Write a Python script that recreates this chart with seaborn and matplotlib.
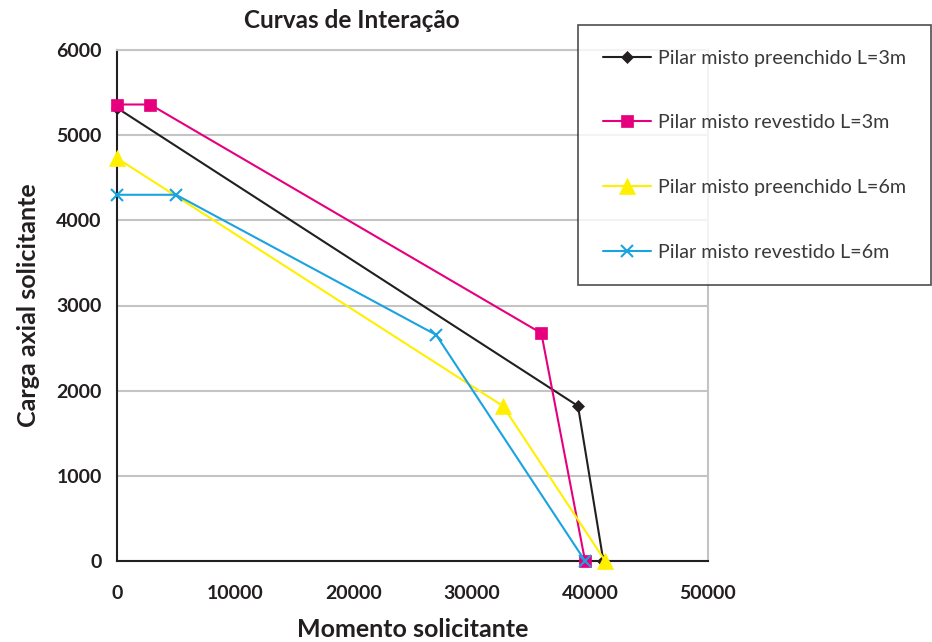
import matplotlib
matplotlib.use('Agg')
import matplotlib.pyplot as plt
import seaborn as sns
import pandas as pd

# momento solicitante (x) / carga axial solicitante (y)
preench_3_x = [0, 39000, 41150]
preench_3_y = [5320, 1820, 0]
revest_3_x = [0, 2800, 35900, 39600]
revest_3_y = [5360, 5360, 2675, 0]
preench_6_x = [0, 32650, 41300]
preench_6_y = [4730, 1820, 0]
revest_6_x = [0, 5000, 27000, 39600]
revest_6_y = [4300, 4300, 2655, 0]

labels = [
	'Pilar misto preenchido L=3m',
	'Pilar misto revestido L=3m',
	'Pilar misto preenchido L=6m',
	'Pilar misto revestido L=6m',
]
x_ticks = [0, 10000, 20000, 30000, 40000, 50000]
y_ticks = [0, 1000, 2000, 3000, 4000, 5000, 6000]

series = [
	(preench_3_x, preench_3_y, '#231f20', 'D', 6.5),
	(revest_3_x, revest_3_y, '#e6007e', 's', 9),
	(preench_6_x, preench_6_y, '#fff000', '^', 11),
	(revest_6_x, revest_6_y, '#1aa3e0', 'x', 9),
]

sns.set_style('white')
plt.rcParams['font.family'] = ['Lato', 'DejaVu Sans']

fig = plt.figure(figsize=(9.32, 6.42), dpi=100)
ax = fig.add_axes([117 / 932, 1 - 561 / 642, (708 - 117) / 932, (561 - 50) / 642])

for (xs, ys, color, marker, ms), label in zip(series, labels):
	df = pd.DataFrame({'x': xs, 'y': ys})
	sns.lineplot(
		data=df, x='x', y='y', ax=ax, sort=False, color=color, marker=marker,
		markersize=ms, markeredgecolor=color, markeredgewidth=1.5 if marker == 'x' else 0.5,
		linewidth=1.5, label=label, clip_on=False, zorder=3,
	)

ax.set_xlim(0, 50000)
ax.set_ylim(0, 6000)
ax.set_xticks(x_ticks)
ax.set_yticks(y_ticks)
ax.grid(axis='y', color='#c4c4c4', linewidth=1.5)
ax.grid(axis='x', visible=False)
ax.set_axisbelow(True)
for side in ['top', 'right']:
	ax.spines[side].set_color('#c4c4c4')
	ax.spines[side].set_linewidth(1.5)
for side in ['left', 'bottom']:
	ax.spines[side].set_color('#231f20')
	ax.spines[side].set_linewidth(1.5)
ax.tick_params(axis='both', direction='out', length=5, width=1.2, color='#231f20',
	labelsize=14, labelcolor='#231f20')
ax.tick_params(axis='x', pad=12)
ax.tick_params(axis='y', pad=6)
for lbl in ax.get_xticklabels() + ax.get_yticklabels():
	lbl.set_fontweight('bold')

ax.set_xlabel('Momento solicitante', fontsize=18, fontweight='bold', color='#231f20', labelpad=12)
ax.set_ylabel('Carga axial solicitante', fontsize=18, fontweight='bold', color='#231f20', labelpad=12)
fig.text(352 / 932, 1 - 20 / 642, 'Curvas de Interação', ha='center', va='center',
	fontsize=17.5, fontweight='bold', color='#231f20')

leg = ax.legend(
	loc='upper left', bbox_to_anchor=(578 / 932, 1 - 25 / 642), bbox_transform=fig.transFigure,
	frameon=True, fancybox=False, edgecolor='#231f20', fontsize=14.2, labelspacing=2.42,
	handlelength=2.45, handletextpad=0.35, borderpad=1.25, borderaxespad=0,
)
leg.get_frame().set_linewidth(1.2)
leg.set_zorder(5)
for txt in leg.get_texts():
	txt.set_color('#3a3a3a')

fig.savefig('out.png', dpi=100)
